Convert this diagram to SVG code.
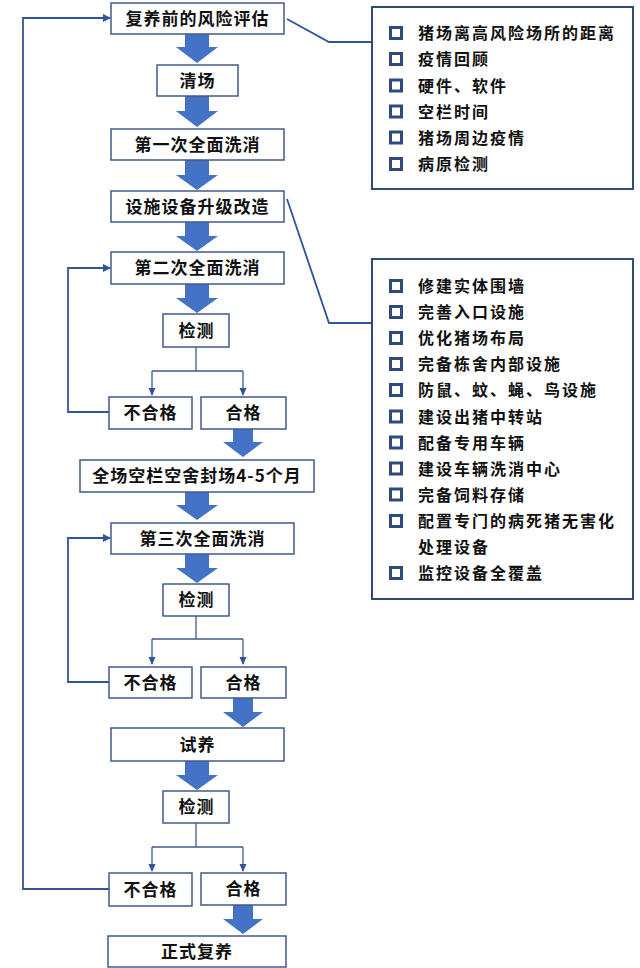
<svg xmlns="http://www.w3.org/2000/svg" width="640" height="968" viewBox="0 0 640 968">
<defs>
<style>
.box{fill:#fff;stroke:#41598A;stroke-width:1.5}
.panel{fill:#fff;stroke:#2F4B7C;stroke-width:2}
.t{font-family:"Noto Sans CJK SC","Liberation Sans",sans-serif;font-size:17px;font-weight:bold;fill:#111;text-anchor:middle;letter-spacing:1px}
.l{font-family:"Noto Sans CJK SC","Liberation Sans",sans-serif;font-size:16px;font-weight:bold;fill:#111;letter-spacing:2px}
.fat{fill:#4472C4}
.ln{fill:none;stroke:#2F5597;stroke-width:1.8}
.thin{fill:none;stroke:#41598A;stroke-width:1.3}
.blt{fill:#fff;stroke:#2F4B7C;stroke-width:3}
</style>
<marker id="ah" markerWidth="8" markerHeight="8" refX="7" refY="4" orient="auto" markerUnits="userSpaceOnUse">
<path d="M0,0 L8,4 L0,8 Z" fill="#2F5597"/>
</marker>
<marker id="ad" markerWidth="8" markerHeight="8" refX="7" refY="4" orient="auto" markerUnits="userSpaceOnUse">
<path d="M0,0.5 L8,4 L0,7.5 Z" fill="#2F5597"/>
</marker>
</defs>

<g id="connectors">
<!-- fat arrows -->
<path class="fat" d="M185,34 H209 V47 H218 L197,63 L176,47 H185 Z"/>
<path class="fat" d="M185,96 H209 V111 H218 L197,127 L176,111 H185 Z"/>
<path class="fat" d="M185,160 H209 V175 H218 L197,190 L176,175 H185 Z"/>
<path class="fat" d="M185,222 H209 V236 H218 L197,251 L176,236 H185 Z"/>
<path class="fat" d="M185,284 H209 V298 H218 L197,313 L176,298 H185 Z"/>
<path class="fat" d="M233,429 H253 V442 H263 L243,457 L223,442 H233 Z"/>
<path class="fat" d="M185,492 H209 V505 H218 L197,520 L176,505 H185 Z"/>
<path class="fat" d="M185,554 H209 V568 H218 L197,583 L176,568 H185 Z"/>
<path class="fat" d="M233,698 H253 V712 H263 L243,727 L223,712 H233 Z"/>
<path class="fat" d="M185,761 H209 V775 H218 L197,790 L176,775 H185 Z"/>
<path class="fat" d="M233,905 H253 V919 H263 L243,934 L223,919 H233 Z"/>

<!-- branches -->
<path class="thin" d="M196,347 V371 M152,371 H243"/>
<path class="thin" d="M152,371 V395" marker-end="url(#ad)"/>
<path class="thin" d="M243,371 V395" marker-end="url(#ad)"/>
<path class="thin" d="M196,616 V639 M152,639 H243"/>
<path class="thin" d="M152,639 V664" marker-end="url(#ad)"/>
<path class="thin" d="M243,639 V664" marker-end="url(#ad)"/>
<path class="thin" d="M196,823 V847 M152,847 H243"/>
<path class="thin" d="M152,847 V871" marker-end="url(#ad)"/>
<path class="thin" d="M243,847 V871" marker-end="url(#ad)"/>

<!-- loops -->
<path class="ln" d="M109,412 H68 V268 H110" marker-end="url(#ah)"/>
<path class="ln" d="M109,682 H68 V538 H110" marker-end="url(#ah)"/>
<path class="ln" d="M109,889 H23 V18 H110" marker-end="url(#ah)"/>

<!-- callouts -->
<path class="ln" d="M287,19 L329,42 H372"/>
<path class="ln" d="M287,199 L329,323 H372"/>
</g>

<g id="n1"><rect class="box" x="111" y="3" width="173" height="31"/><text class="t" x="197.5" y="24.5">复养前的风险评估</text></g>
<g id="n2"><rect class="box" x="157" y="65" width="81" height="31"/><text class="t" x="197.5" y="86.5">清场</text></g>
<g id="n3"><rect class="box" x="111" y="129" width="173" height="31"/><text class="t" x="197.5" y="150.5">第一次全面洗消</text></g>
<g id="n4"><rect class="box" x="111" y="191" width="173" height="31"/><text class="t" x="197.5" y="212.5">设施设备升级改造</text></g>
<g id="n5"><rect class="box" x="111" y="252" width="173" height="32"/><text class="t" x="197.5" y="274">第二次全面洗消</text></g>
<g id="n6"><rect class="box" x="163" y="314" width="66" height="33"/><text class="t" x="196.5" y="336.5">检测</text></g>
<g id="n7"><rect class="box" x="109" y="397" width="83" height="32"/><text class="t" x="150.5" y="419">不合格</text></g>
<g id="n8"><rect class="box" x="201" y="397" width="85" height="32"/><text class="t" x="243.5" y="419">合格</text></g>
<g id="n9"><rect class="box" x="80" y="460" width="234" height="32"/><text class="t" x="197" y="482">全场空栏空舍封场4-5个月</text></g>
<g id="n10"><rect class="box" x="111" y="523" width="183" height="31"/><text class="t" x="202.5" y="544.5">第三次全面洗消</text></g>
<g id="n11"><rect class="box" x="163" y="584" width="66" height="32"/><text class="t" x="196.5" y="606">检测</text></g>
<g id="n12"><rect class="box" x="109" y="667" width="83" height="31"/><text class="t" x="150.5" y="688.5">不合格</text></g>
<g id="n13"><rect class="box" x="201" y="667" width="85" height="31"/><text class="t" x="243.5" y="688.5">合格</text></g>
<g id="n14"><rect class="box" x="111" y="728" width="173" height="33"/><text class="t" x="197.5" y="750.5">试养</text></g>
<g id="n15"><rect class="box" x="163" y="791" width="66" height="32"/><text class="t" x="196.5" y="813">检测</text></g>
<g id="n16"><rect class="box" x="109" y="873" width="83" height="33"/><text class="t" x="150.5" y="895.5">不合格</text></g>
<g id="n17"><rect class="box" x="201" y="873" width="85" height="32"/><text class="t" x="243.5" y="895">合格</text></g>
<g id="n18"><rect class="box" x="108" y="936" width="178" height="31"/><text class="t" x="197" y="957.5">正式复养</text></g>

<g id="panel1">
<rect class="panel" x="372" y="7" width="261" height="182"/>
<rect class="blt" x="390.5" y="27.5" width="11" height="11"/><text class="l" x="418" y="39">猪场离高风险场所的距离</text>
<rect class="blt" x="390.5" y="53.5" width="11" height="11"/><text class="l" x="418" y="65">疫情回顾</text>
<rect class="blt" x="390.5" y="80" width="11" height="11"/><text class="l" x="418" y="91.5">硬件、软件</text>
<rect class="blt" x="390.5" y="106" width="11" height="11"/><text class="l" x="418" y="117.5">空栏时间</text>
<rect class="blt" x="390.5" y="132" width="11" height="11"/><text class="l" x="418" y="143.5">猪场周边疫情</text>
<rect class="blt" x="390.5" y="158.5" width="11" height="11"/><text class="l" x="418" y="170">病原检测</text>
</g>

<g id="panel2">
<rect class="panel" x="372" y="259" width="261" height="340"/>
<rect class="blt" x="390.5" y="280.5" width="11" height="11"/><text class="l" x="418" y="292">修建实体围墙</text>
<rect class="blt" x="390.5" y="306.5" width="11" height="11"/><text class="l" x="418" y="318">完善入口设施</text>
<rect class="blt" x="390.5" y="332.5" width="11" height="11"/><text class="l" x="418" y="344">优化猪场布局</text>
<rect class="blt" x="390.5" y="358.5" width="11" height="11"/><text class="l" x="418" y="370">完备栋舍内部设施</text>
<rect class="blt" x="390.5" y="384.5" width="11" height="11"/><text class="l" x="418" y="396">防鼠、蚊、蝇、鸟设施</text>
<rect class="blt" x="390.5" y="411" width="11" height="11"/><text class="l" x="418" y="422.5">建设出猪中转站</text>
<rect class="blt" x="390.5" y="437" width="11" height="11"/><text class="l" x="418" y="448.5">配备专用车辆</text>
<rect class="blt" x="390.5" y="463" width="11" height="11"/><text class="l" x="418" y="474.5">建设车辆洗消中心</text>
<rect class="blt" x="390.5" y="489" width="11" height="11"/><text class="l" x="418" y="500.5">完备饲料存储</text>
<rect class="blt" x="390.5" y="515.5" width="11" height="11"/><text class="l" x="418" y="527">配置专门的病死猪无害化</text>
<text class="l" x="418" y="553">处理设备</text>
<rect class="blt" x="390.5" y="567.5" width="11" height="11"/><text class="l" x="418" y="579">监控设备全覆盖</text>
</g>
</svg>
